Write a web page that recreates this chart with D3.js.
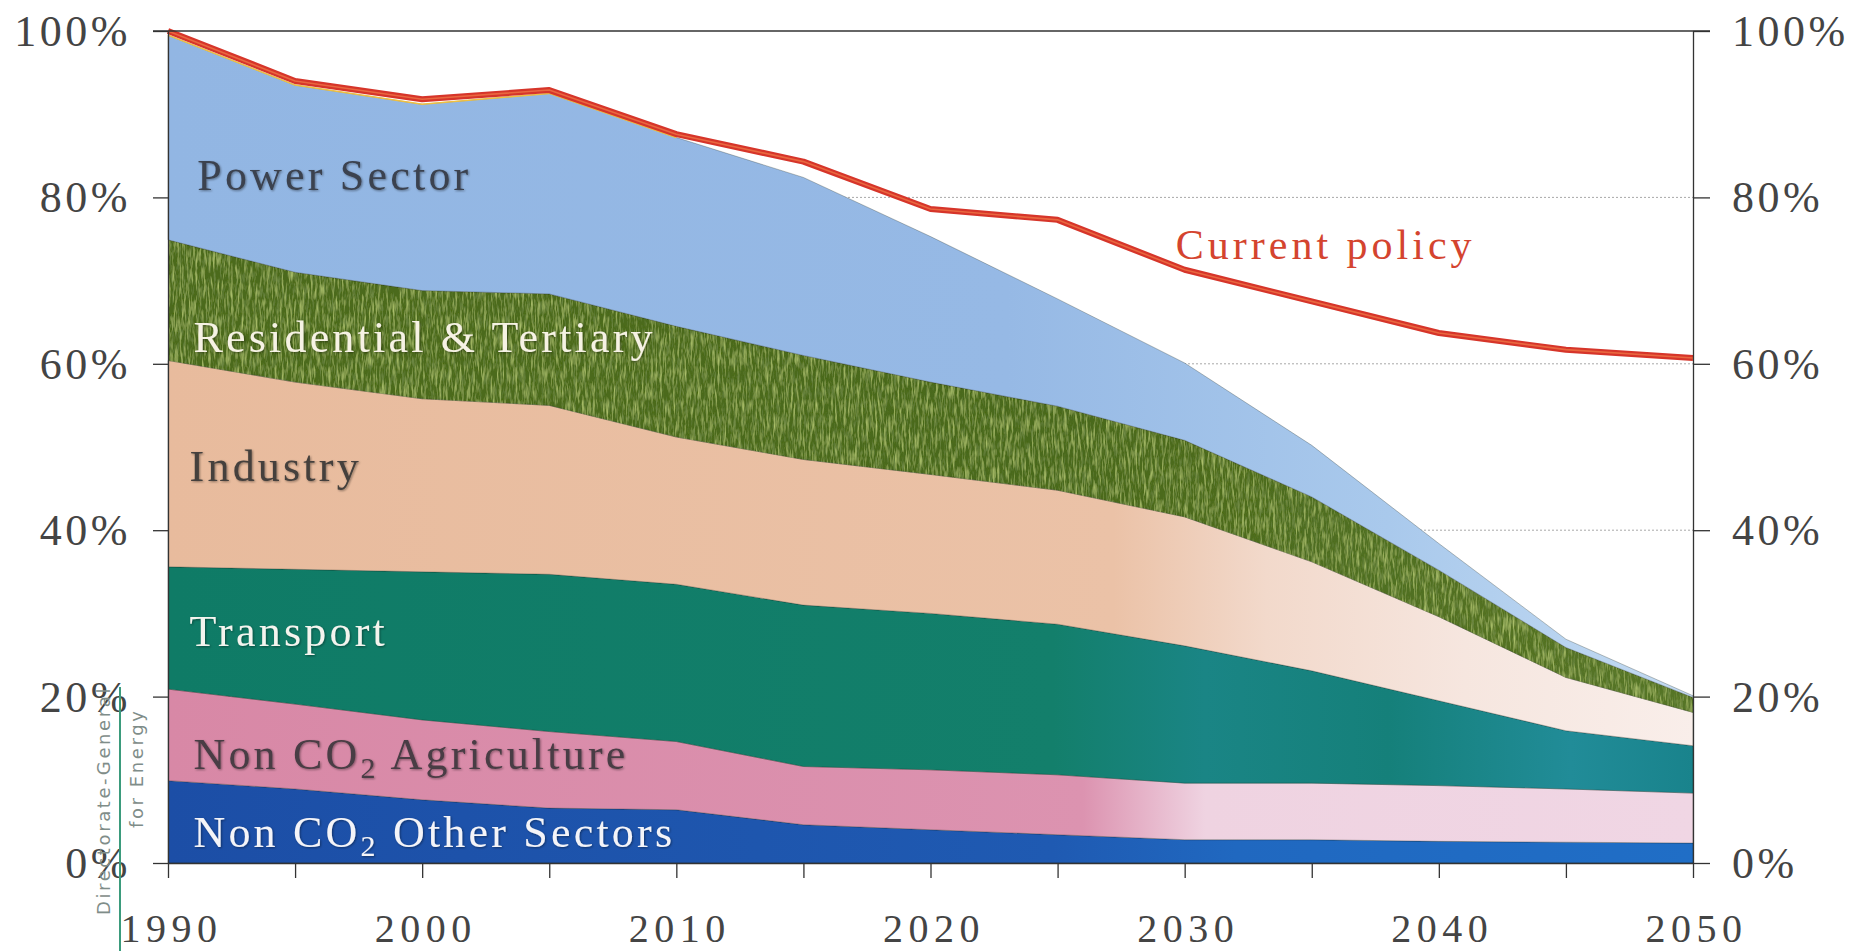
<!DOCTYPE html>
<html>
<head>
<meta charset="utf-8">
<script src="https://cdn.jsdelivr.net/npm/d3@7"></script>
<style>
  html, body { margin: 0; padding: 0; background: #fff; }
  svg { display: block; }
</style>
</head>
<body>
<div id="chart"></div>
<script>
// values, share of 1990 emissions (%)
var years = [1990, 1995, 2000, 2005, 2010, 2015, 2020, 2025, 2030, 2035, 2040, 2045, 2050];
var otherSectors = [9.9, 8.9, 7.6, 6.6, 6.4, 4.6, 4.0, 3.4, 2.8, 2.8, 2.6, 2.5, 2.4];
var agriculture  = [11.0, 10.2, 9.6, 9.2, 8.2, 7.0, 7.2, 7.2, 6.8, 6.8, 6.7, 6.4, 6.0];
var transport    = [14.7, 16.2, 17.8, 18.9, 18.9, 19.4, 18.8, 18.1, 16.5, 13.5, 10.2, 7.0, 5.7];
var industry     = [24.8, 22.5, 20.8, 20.3, 17.7, 17.5, 16.7, 16.1, 15.5, 13.1, 10.1, 6.4, 4.0];
var residential  = [14.5, 13.2, 13.0, 13.4, 13.3, 12.5, 11.1, 10.1, 9.2, 7.8, 5.6, 3.6, 1.8];
var power        = [24.6, 22.5, 22.4, 24.1, 22.7, 21.4, 17.5, 12.9, 9.3, 6.2, 3.2, 1.0, 0.2];
var currentPolicy = [100, 94.0, 91.8, 92.9, 87.6, 84.3, 78.6, 77.3, 71.3, 67.5, 63.7, 61.7, 60.7];

var keys = ["other", "agri", "transport", "industry", "residential", "power"];
var yTicks = [0, 20, 40, 60, 80, 100];
var xTickYears = [1990, 1995, 2000, 2005, 2010, 2015, 2020, 2025, 2030, 2035, 2040, 2045, 2050];
var xLabelYears = [1990, 2000, 2010, 2020, 2030, 2040, 2050];

var table = years.map(function (yr, i) {
    return {
        year: yr,
        other: otherSectors[i],
        agri: agriculture[i],
        transport: transport[i],
        industry: industry[i],
        residential: residential[i],
        power: power[i]
    };
});

var W = 1857, H = 951;
var serif = "'Liberation Serif', 'Times New Roman', serif";

var svg = d3.select("#chart").append("svg")
    .attr("width", W)
    .attr("height", H);

var x = d3.scaleLinear().domain([1990, 2050]).range([168, 1693]);
var y = d3.scaleLinear().domain([0, 100]).range([863, 31]);

var defs = svg.append("defs");

// horizontal colour fades, the scan gets paler on the right
var fades = {
    power:       [[0, "#92b6e3"], [0.55, "#96b9e5"], [0.8, "#a9c9ec"], [1, "#c4dbf2"]],
    residential: [[0, "#4c6b1e"], [0.6, "#4a691c"], [1, "#567527"]],
    industry:    [[0, "#e8bb9d"], [0.62, "#ebc2a7"], [0.72, "#f2d9cb"], [0.85, "#f6e6df"], [1, "#f9eeea"]],
    transport:   [[0, "#0f7b66"], [0.58, "#137f6b"], [0.68, "#1a8585"], [0.8, "#15807a"], [0.92, "#218c98"], [1, "#19838c"]],
    agri:        [[0, "#d888a6"], [0.6, "#dc93b0"], [0.68, "#efd3e1"], [1, "#f0d6e4"]],
    other:       [[0, "#1c4ea6"], [0.58, "#1f5ab2"], [0.7, "#2068c0"], [1, "#206ec6"]]
};

keys.forEach(function (k) {
    var g = defs.append("linearGradient")
        .attr("id", "fade-" + k)
        .attr("gradientUnits", "userSpaceOnUse")
        .attr("x1", x(1990)).attr("x2", x(2050))
        .attr("y1", 0).attr("y2", 0);
    fades[k].forEach(function (s) {
        g.append("stop").attr("offset", s[0]).attr("stop-color", s[1]);
    });
});

// mottled texture for the green band
var f = defs.append("filter").attr("id", "mottle")
    .attr("x", 0).attr("y", 0).attr("width", 1).attr("height", 1);
f.append("feTurbulence").attr("type", "fractalNoise")
    .attr("baseFrequency", "0.45 0.06").attr("numOctaves", 3).attr("seed", 7).attr("result", "n1");
f.append("feColorMatrix").attr("in", "n1").attr("type", "matrix")
    .attr("values", "0 0 0 0 0.47  0 0 0 0 0.6  0 0 0 0 0.17  2.0 0 0 0 -0.95")
    .attr("result", "light");
f.append("feComposite").attr("in", "light").attr("in2", "SourceGraphic")
    .attr("operator", "in").attr("result", "lightIn");
f.append("feTurbulence").attr("type", "fractalNoise")
    .attr("baseFrequency", "0.5 0.07").attr("numOctaves", 3).attr("seed", 2).attr("result", "n2");
f.append("feColorMatrix").attr("in", "n2").attr("type", "matrix")
    .attr("values", "0 0 0 0 0.2  0 0 0 0 0.3  0 0 0 0 0.08  -2.0 0 0 0 1.05")
    .attr("result", "dark");
f.append("feComposite").attr("in", "dark").attr("in2", "SourceGraphic")
    .attr("operator", "in").attr("result", "darkIn");
var m = f.append("feMerge");
m.append("feMergeNode").attr("in", "SourceGraphic");
m.append("feMergeNode").attr("in", "darkIn");
m.append("feMergeNode").attr("in", "lightIn");

// soft shadow behind the labels
defs.append("filter").attr("id", "shadow")
    .attr("x", "-5%").attr("y", "-20%").attr("width", "110%").attr("height", "140%")
    .append("feDropShadow")
    .attr("dx", 1).attr("dy", 1).attr("stdDeviation", 0.8)
    .attr("flood-color", "#000").attr("flood-opacity", 0.4);

// dotted grid lines
svg.append("g")
    .selectAll("line")
    .data(yTicks.filter(function (d) { return d > 0 && d < 100; }))
    .join("line")
    .attr("x1", x(1990)).attr("x2", x(2050))
    .attr("y1", function (d) { return y(d); })
    .attr("y2", function (d) { return y(d); })
    .attr("stroke", "#a8a8a8")
    .attr("stroke-width", 1)
    .attr("stroke-dasharray", "2,2");

// stacked areas
var series = d3.stack().keys(keys)(table);

var area = d3.area()
    .x(function (d) { return x(d.data.year); })
    .y0(function (d) { return y(d[0]); })
    .y1(function (d) { return y(d[1]); });

svg.append("g")
    .selectAll("path")
    .data(series)
    .join("path")
    .attr("d", area)
    .attr("fill", function (s) { return "url(#fade-" + s.key + ")"; })
    .attr("filter", function (s) { return s.key === "residential" ? "url(#mottle)" : null; })
    .attr("stroke", "rgba(20,30,20,0.35)")
    .attr("stroke-width", 0.8);

// thin yellow edge on top of the power band where it meets the policy line
var top5 = series[series.length - 1].slice(0, 5);
svg.append("path")
    .datum(top5)
    .attr("d", d3.line()
        .x(function (d) { return x(d.data.year); })
        .y(function (d) { return y(d[1]); }))
    .attr("fill", "none")
    .attr("stroke", "#f0c040")
    .attr("stroke-width", 1.5);

// current policy line
var policyLine = d3.line()
    .x(function (d, i) { return x(years[i]); })
    .y(function (d) { return y(d); });

svg.append("path")
    .datum(currentPolicy)
    .attr("d", policyLine)
    .attr("fill", "none")
    .attr("stroke", "#d6352a")
    .attr("stroke-width", 6)
    .attr("stroke-linejoin", "round");
svg.append("path")
    .datum(currentPolicy)
    .attr("d", policyLine)
    .attr("fill", "none")
    .attr("stroke", "#e9673f")
    .attr("stroke-width", 1.6)
    .attr("stroke-linejoin", "round");

// axes
function styleAxis(g) {
    g.selectAll("path.domain").attr("stroke", "#333").attr("stroke-width", 1.3);
    g.selectAll(".tick line").attr("stroke", "#333").attr("stroke-width", 1.3);
    g.selectAll(".tick text")
        .attr("fill", "#444")
        .style("font-family", serif);
}

var pct = function (d) { return d + "%"; };

var gLeft = svg.append("g")
    .attr("transform", "translate(" + x(1990) + ",0)")
    .call(d3.axisLeft(y).tickValues(yTicks).tickFormat(pct)
        .tickSize(15).tickSizeOuter(0).tickPadding(22));
styleAxis(gLeft);
gLeft.selectAll(".tick text").style("font-size", "44px").style("letter-spacing", "3.5px")
    .attr("dy", "0.33em");

var gRight = svg.append("g")
    .attr("transform", "translate(" + x(2050) + ",0)")
    .call(d3.axisRight(y).tickValues(yTicks).tickFormat(pct)
        .tickSize(17).tickSizeOuter(0).tickPadding(22));
styleAxis(gRight);
gRight.selectAll(".tick text").style("font-size", "44px").style("letter-spacing", "3.5px")
    .attr("dy", "0.33em");

var gBottom = svg.append("g")
    .attr("transform", "translate(0," + y(0) + ")")
    .call(d3.axisBottom(x).tickValues(xTickYears)
        .tickFormat(function (d) { return xLabelYears.indexOf(d) >= 0 ? d : ""; })
        .tickSize(15).tickSizeOuter(0).tickPadding(36));
styleAxis(gBottom);
gBottom.selectAll(".tick text").style("font-size", "40px").style("letter-spacing", "5.5px")
    .attr("dx", "3px");

// top frame line at 100%
svg.append("line")
    .attr("x1", x(1990) - 15).attr("x2", x(2050) + 17)
    .attr("y1", y(100)).attr("y2", y(100))
    .attr("stroke", "#333").attr("stroke-width", 1.3);

// sector labels
var labels = [
    { parts: ["Power Sector"], yr: 1991.15, v: 80.9, color: "#3b4250" },
    { parts: ["Residential & Tertiary"], yr: 1991.0, v: 61.4, color: "#f6f2e4" },
    { parts: ["Industry"], yr: 1990.85, v: 45.9, color: "#45403c" },
    { parts: ["Transport"], yr: 1990.85, v: 26.1, color: "#f4f4ee" },
    { parts: ["Non CO", "2", " Agriculture"], yr: 1991.0, v: 11.3, color: "#4a3c44" },
    { parts: ["Non CO", "2", " Other Sectors"], yr: 1991.0, v: 1.9, color: "#f4f4f8" }
];

var lab = svg.append("g")
    .selectAll("text")
    .data(labels)
    .join("text")
    .attr("x", function (d) { return x(d.yr); })
    .attr("y", function (d) { return y(d.v); })
    .attr("fill", function (d) { return d.color; })
    .attr("filter", "url(#shadow)")
    .style("font-family", serif)
    .style("font-size", "44px")
    .style("letter-spacing", "3.2px");

lab.each(function (d) {
    var t = d3.select(this);
    d.parts.forEach(function (p, i) {
        var ts = t.append("tspan").text(p);
        if (i === 1) {
            ts.style("font-size", "30px").attr("dy", "9");
        } else if (i === 2) {
            ts.attr("dy", "-9");
        }
    });
});

svg.append("text")
    .attr("x", x(2029.65))
    .attr("y", y(72.6))
    .attr("fill", "#d4442f")
    .style("font-family", serif)
    .style("font-size", "42px")
    .style("letter-spacing", "4px")
    .text("Current policy");

// vertical watermark at the left edge
svg.append("line")
    .attr("x1", 120).attr("x2", 120)
    .attr("y1", 687).attr("y2", H)
    .attr("stroke", "#3b9b7c").attr("stroke-width", 2);

svg.append("text")
    .attr("transform", "translate(110,686) rotate(-90)")
    .attr("text-anchor", "end")
    .attr("fill", "#7f8d89")
    .style("font-family", "'DejaVu Sans', sans-serif")
    .style("font-size", "18px")
    .style("letter-spacing", "2.6px")
    .text("Directorate-General");

svg.append("text")
    .attr("transform", "translate(143,828) rotate(-90)")
    .attr("fill", "#7f8d89")
    .style("font-family", "'DejaVu Sans', sans-serif")
    .style("font-size", "18px")
    .style("letter-spacing", "2.6px")
    .text("for Energy");
</script>
</body>
</html>
